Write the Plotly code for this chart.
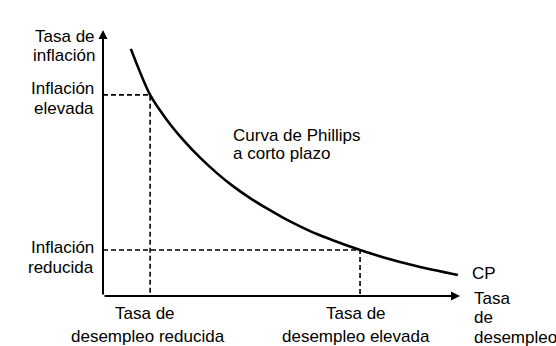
import plotly.graph_objects as go

# Short-run Phillips curve (arbitrary units: unemployment 0-10, inflation 0-10)
unemployment = [0.78, 1.32, 1.79, 2.24, 2.72, 3.19, 3.64, 4.12, 4.59, 5.04,
                5.52, 5.99, 6.92, 7.20, 7.84, 8.80, 9.94]
inflation = [9.29, 7.56, 6.62, 5.88, 5.20, 4.62, 4.13, 3.68, 3.29, 2.95,
             2.62, 2.33, 1.86, 1.73, 1.46, 1.12, 0.79]

u_low, u_high = 1.32, 7.20      # desempleo reducido / elevado
pi_high, pi_low = 7.56, 1.73    # inflación elevada / reducida

W, H = 556, 346
L, R, T, B = 103, 96, 30, 50
PW, PH = W - L - R, H - T - B

def px(x):
    return (x - L) / PW

def py(y):
    return (H - B - y) / PH

FONT = dict(family="Liberation Sans, Arial, sans-serif", size=17, color="black")

fig = go.Figure()

# dashed guides
fig.add_trace(go.Scatter(x=[0, u_low, u_low], y=[pi_high, pi_high, 0], mode="lines",
                         line=dict(color="black", width=1.6, dash="5px,3px"),
                         hoverinfo="skip", showlegend=False))
fig.add_trace(go.Scatter(x=[0, u_high, u_high], y=[pi_low, pi_low, 0], mode="lines",
                         line=dict(color="black", width=1.6, dash="5px,3px"),
                         hoverinfo="skip", showlegend=False))
# curve
fig.add_trace(go.Scatter(x=unemployment, y=inflation, mode="lines",
                         line=dict(color="black", width=2.6, shape="spline", smoothing=0.8),
                         hoverinfo="skip", showlegend=False))

ann = []
# axes with arrows
ann.append(dict(x=0, y=10, ax=0, ay=0, xref="x", yref="y", axref="x", ayref="y",
                showarrow=True, arrowhead=2, arrowsize=0.9, arrowwidth=2, arrowcolor="black", text=""))
ann.append(dict(x=10, y=0, ax=0, ay=0, xref="x", yref="y", axref="x", ayref="y",
                showarrow=True, arrowhead=2, arrowsize=0.9, arrowwidth=2, arrowcolor="black", text=""))

def label(text, x, y, xanchor="center"):
    ann.append(dict(text=text, x=px(x), y=py(y), xref="paper", yref="paper",
                    xanchor=xanchor, yanchor="middle", showarrow=False, font=FONT))

label("Tasa de", 97, 37, "right")
label("inflación", 97, 55, "right")
label("Inflación", 96, 89, "right")
label("elevada", 96, 108, "right")
label("Inflación", 96, 247, "right")
label("reducida", 96, 267, "right")
label("Curva de Phillips", 231, 135, "left")
label("a corto plazo", 231, 153, "left")
label("CP", 470, 273, "left")
label("Tasa", 472, 298, "left")
label("de", 472, 317, "left")
label("desempleo", 472, 337, "left")
label("Tasa de", 145, 313)
label("desempleo reducida", 148, 336)
label("Tasa de", 356, 313)
label("desempleo elevada", 356, 336)

fig.update_layout(
    width=W, height=H,
    margin=dict(l=L, r=R, t=T, b=B),
    paper_bgcolor="white", plot_bgcolor="white",
    hovermode=False,
    xaxis=dict(range=[0, 10], showgrid=False, zeroline=False, showticklabels=False,
               showline=False, fixedrange=True),
    yaxis=dict(range=[0, 10], showgrid=False, zeroline=False, showticklabels=False,
               showline=False, fixedrange=True),
    annotations=ann,
)

fig.write_html("out.html", config={"displayModeBar": False},
               post_script="document.body.style.margin='0';")
